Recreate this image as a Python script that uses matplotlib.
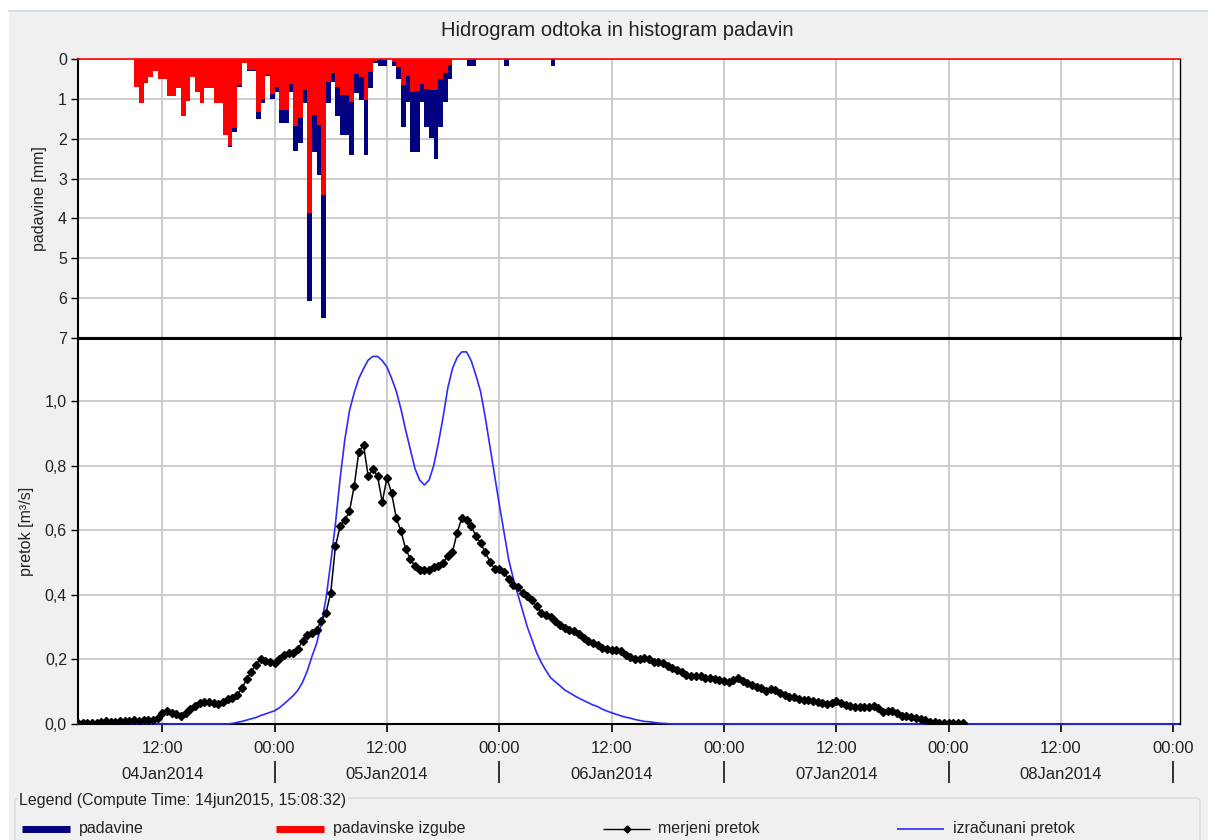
import matplotlib
matplotlib.use('Agg')
import matplotlib.pyplot as plt
import matplotlib.dates as mdates
import numpy as np
import pandas as pd
from matplotlib.lines import Line2D
from matplotlib.patches import Rectangle, FancyBboxPatch
from matplotlib.ticker import FuncFormatter, MultipleLocator

plt.rcParams['font.family'] = ['Liberation Sans', 'DejaVu Sans']

# padavine [mm] in 30-min intervals, od 04Jan2014 09:00
padavine = [0.70, 1.10, 0.59, 0.44, 0.31, 0.49, 0.49, 0.93, 0.93, 0.72,
            1.44, 1.05, 0.44, 0.82, 1.10, 0.72, 0.72, 1.10, 1.10, 1.91,
            2.22, 1.84, 0.70, 0.10, 0.30, 0.30, 1.51, 1.10, 0.43, 1.00,
            0.82, 1.60, 1.60, 0.82, 2.32, 2.10, 1.10, 6.07, 2.33, 2.90,
            6.50, 1.10, 0.57, 1.44, 1.90, 1.90, 2.40, 0.86, 1.02, 2.40,
            0.73, 0.10, 0.17, 0.17, 0.00, 0.17, 0.50, 1.71, 1.09, 2.34,
            2.34, 1.09, 1.71, 1.98, 2.52, 1.71, 1.09, 0.49, 0.00, 0.00,
            0.00, 0.17, 0.17, 0.00, 0.00, 0.00, 0.00, 0.00, 0.00, 0.18,
            0.00, 0.00, 0.00, 0.00, 0.00, 0.00, 0.00, 0.00, 0.00, 0.18]
izgube = [0.70, 1.10, 0.59, 0.44, 0.31, 0.49, 0.49, 0.93, 0.93, 0.72,
          1.44, 1.05, 0.44, 0.82, 1.10, 0.72, 0.72, 1.10, 1.10, 1.91,
          2.18, 1.74, 0.65, 0.10, 0.27, 0.27, 1.33, 1.00, 0.40, 0.87,
          0.71, 1.27, 1.27, 0.63, 1.69, 1.48, 0.77, 3.86, 1.40, 1.65,
          3.40, 0.57, 0.34, 0.69, 0.90, 0.90, 1.09, 0.37, 0.44, 1.02,
          0.32, 0.05, 0.03, 0.03, 0.00, 0.07, 0.20, 0.66, 0.43, 0.83,
          0.80, 0.62, 0.75, 0.79, 0.79, 0.51, 0.34, 0.15, 0.00, 0.00,
          0.00, 0.03, 0.03, 0.00, 0.00, 0.00, 0.00, 0.00, 0.00, 0.03,
          0.00, 0.00, 0.00, 0.00, 0.00, 0.00, 0.00, 0.00, 0.00, 0.00]

# merjeni pretok [m3/s], 30-min, od 04Jan2014 03:00
merjeni = [0.002, 0.002, 0.002, 0.003, 0.004, 0.007, 0.008, 0.006, 0.007, 0.009,
           0.010, 0.010, 0.012, 0.010, 0.012, 0.013, 0.013, 0.018, 0.033, 0.040,
           0.035, 0.030, 0.026, 0.033, 0.045, 0.056, 0.064, 0.069, 0.069, 0.066,
           0.062, 0.069, 0.077, 0.082, 0.090, 0.110, 0.138, 0.162, 0.183, 0.200,
           0.195, 0.191, 0.190, 0.200, 0.214, 0.219, 0.219, 0.233, 0.258, 0.276,
           0.281, 0.292, 0.320, 0.345, 0.407, 0.550, 0.612, 0.631, 0.659, 0.736,
           0.843, 0.863, 0.767, 0.790, 0.767, 0.687, 0.762, 0.714, 0.638, 0.597,
           0.542, 0.511, 0.488, 0.476, 0.476, 0.478, 0.486, 0.490, 0.498, 0.521,
           0.532, 0.592, 0.638, 0.631, 0.612, 0.583, 0.560, 0.532, 0.503, 0.480,
           0.480, 0.470, 0.449, 0.431, 0.424, 0.405, 0.395, 0.383, 0.364, 0.345,
           0.338, 0.330, 0.320, 0.308, 0.296, 0.290, 0.289, 0.278, 0.265, 0.258,
           0.252, 0.244, 0.236, 0.231, 0.229, 0.229, 0.225, 0.215, 0.208, 0.202,
           0.200, 0.203, 0.202, 0.193, 0.193, 0.190, 0.181, 0.174, 0.167, 0.161,
           0.153, 0.149, 0.149, 0.148, 0.143, 0.141, 0.139, 0.136, 0.134, 0.131,
           0.136, 0.141, 0.134, 0.126, 0.120, 0.115, 0.110, 0.102, 0.107, 0.105,
           0.095, 0.090, 0.085, 0.085, 0.077, 0.074, 0.074, 0.072, 0.069, 0.064,
           0.061, 0.064, 0.072, 0.066, 0.059, 0.056, 0.054, 0.054, 0.054, 0.054,
           0.057, 0.048, 0.038, 0.041, 0.041, 0.033, 0.025, 0.025, 0.023, 0.020,
           0.016, 0.012, 0.007, 0.005, 0.004, 0.004, 0.004, 0.002, 0.002, 0.002]

# izracunani pretok [m3/s], 30-min, od 04Jan2014 03:00
izracunani = [0.0] * 33 + [
    0.002, 0.005, 0.008, 0.012, 0.016, 0.020, 0.026, 0.031, 0.036, 0.041,
    0.050, 0.062, 0.075, 0.088, 0.105, 0.130, 0.165, 0.210, 0.250, 0.310,
    0.390, 0.500, 0.620, 0.760, 0.880, 0.970, 1.025, 1.070, 1.100, 1.127,
    1.138, 1.138, 1.125, 1.105, 1.070, 1.030, 0.975, 0.910, 0.850, 0.790,
    0.755, 0.740, 0.755, 0.800, 0.870, 0.950, 1.040, 1.100, 1.135, 1.152,
    1.152, 1.125, 1.080, 1.030, 0.950, 0.860, 0.770, 0.680, 0.595, 0.510,
    0.450, 0.400, 0.350, 0.300, 0.260, 0.220, 0.190, 0.165, 0.143, 0.130,
    0.118, 0.105, 0.097, 0.088, 0.080, 0.073, 0.066, 0.059, 0.054, 0.046,
    0.040, 0.035, 0.030, 0.025, 0.021, 0.018, 0.014, 0.011, 0.008, 0.007,
    0.005, 0.003, 0.002, 0.001] + [0.0] * 109

p_times = pd.date_range('2014-01-04 09:00', periods=len(padavine), freq='30min')
q_times = pd.date_range('2014-01-04 03:00', periods=len(merjeni), freq='30min')
c_times = pd.date_range('2014-01-04 03:00', periods=len(izracunani), freq='30min')

W, H = 1208, 840
def fx(px):
    return px / W
def fy(py):
    return 1 - py / H

bg = '#F0F0F0'
grid_c = '#C8C8C8'
txt_c = '#222222'
fs = 11.5

fig = plt.figure(figsize=(W / 100, H / 100), dpi=100, facecolor='white')
fig.patches.append(Rectangle((fx(9), 0), 1, fy(11), transform=fig.transFigure,
                             facecolor=bg, edgecolor='none', zorder=-10))
fig.add_artist(Line2D([fx(9), 1], [fy(11), fy(11)], color='#C9D9EA', lw=1.2))

ax_p = fig.add_axes([fx(78), fy(338), fx(1180) - fx(78), fy(59) - fy(338)])
ax_q = fig.add_axes([fx(78), fy(724), fx(1180) - fx(78), fy(338) - fy(724)], sharex=ax_p)

# histogram padavin (obrnjena os)
ax_p.bar(p_times, padavine, width=1 / 48, align='edge', color='#000080', lw=0, zorder=2)
ax_p.bar(p_times, izgube, width=1 / 48, align='edge', color='#FF0000', lw=0, zorder=3)
ax_p.set_ylim(7, 0)
ax_p.set_yticks(range(0, 8))
ax_p.set_ylabel('padavine [mm]', fontsize=fs, color=txt_c, labelpad=8)

# hidrogram
ax_q.plot(c_times, izracunani, color='#2B2BFF', lw=1.2, zorder=4, clip_on=False)
ax_q.plot(q_times, merjeni, color='black', lw=1.1, marker='D', markersize=4.0,
          zorder=5)
ax_q.set_ylim(0, 1.195)
ax_q.yaxis.set_major_locator(MultipleLocator(0.2))
ax_q.yaxis.set_major_formatter(FuncFormatter(lambda v, p: f'{v:.1f}'.replace('.', ',')))
ax_q.set_ylabel('pretok [m³/s]', fontsize=fs, color=txt_c, labelpad=8)

xticks = pd.date_range('2014-01-04 12:00', '2014-01-09 00:00', freq='12h')
ax_q.set_xlim(pd.Timestamp('2014-01-04 03:00'), pd.Timestamp('2014-01-09 00:43'))
ax_q.set_xticks(xticks)
ax_q.xaxis.set_major_formatter(mdates.DateFormatter('%H:%M'))

for ax in (ax_p, ax_q):
    ax.set_facecolor('white')
    ax.set_axisbelow(True)
    ax.grid(True, color=grid_c, lw=1.3)
    ax.tick_params(axis='y', direction='out', length=5, width=1, colors='black',
                   labelcolor=txt_c, labelsize=fs, pad=3)
    ax.spines['left'].set_linewidth(1.5)
    ax.spines['right'].set_linewidth(1.0)

ax_p.tick_params(axis='x', length=0, labelbottom=False)
ax_p.spines['top'].set_color('#FF0000')
ax_p.spines['top'].set_linewidth(1.2)
ax_p.spines['bottom'].set_linewidth(2.2)
ax_q.spines['top'].set_linewidth(2.2)
ax_q.spines['bottom'].set_linewidth(1.5)
ax_q.tick_params(axis='x', direction='out', length=6, width=1.2, colors='black',
                 labelcolor=txt_c, labelsize=12, pad=6)

# druga vrstica: datumi
sec = ax_q.secondary_xaxis(-(761 - 724) / (724 - 338))
sec.spines['bottom'].set_visible(False)
sec.set_xticks(pd.date_range('2014-01-05', '2014-01-09', freq='D'))
sec.tick_params(which='major', direction='out', length=16, width=1.4,
                colors='#333333', labelbottom=False)
day_noons = pd.date_range('2014-01-04 12:00', '2014-01-08 12:00', freq='D')
sec.set_xticks(day_noons, minor=True)
sec.set_xticklabels([d.strftime('%d%b%Y') for d in day_noons], minor=True)
sec.tick_params(which='minor', length=0, pad=4, labelsize=12, labelcolor=txt_c)

fig.text(fx(617), fy(30), 'Hidrogram odtoka in histogram padavin',
         ha='center', va='center', fontsize=14.5, color=txt_c)

# legenda
fig.patches.append(FancyBboxPatch((fx(15), fy(860)), fx(1200) - fx(15), fy(798) - fy(860),
                                  boxstyle='round,pad=0,rounding_size=0.004',
                                  transform=fig.transFigure, facecolor='none',
                                  edgecolor='#D5D9DE', lw=1.0))
fig.text(fx(19), fy(800), 'Legend (Compute Time: 14jun2015, 15:08:32)', ha='left',
         va='center', fontsize=fs, color=txt_c,
         bbox=dict(facecolor=bg, edgecolor='none', pad=1))

ly = fy(829)
items = [
    (22, 70, dict(color='#000080', lw=5), 'padavine', 79),
    (276, 324, dict(color='#FF0000', lw=5), 'padavinske izgube', 333),
    (603, 650, dict(color='black', lw=1.0, marker='D', markersize=3.5,
                    markevery=[1]), 'merjeni pretok', 658),
    (897, 944, dict(color='#2B2BFF', lw=1.2), 'izračunani pretok', 953),
]
for x0, x1, style, label, tx in items:
    xs = [fx(x0), fx((x0 + x1) / 2), fx(x1)]
    fig.add_artist(Line2D(xs, [ly, ly, ly], solid_capstyle='butt', **style))
    fig.text(fx(tx), ly, label, ha='left', va='center', fontsize=fs, color=txt_c)

fig.savefig('out.png', dpi=100, facecolor=fig.get_facecolor())
